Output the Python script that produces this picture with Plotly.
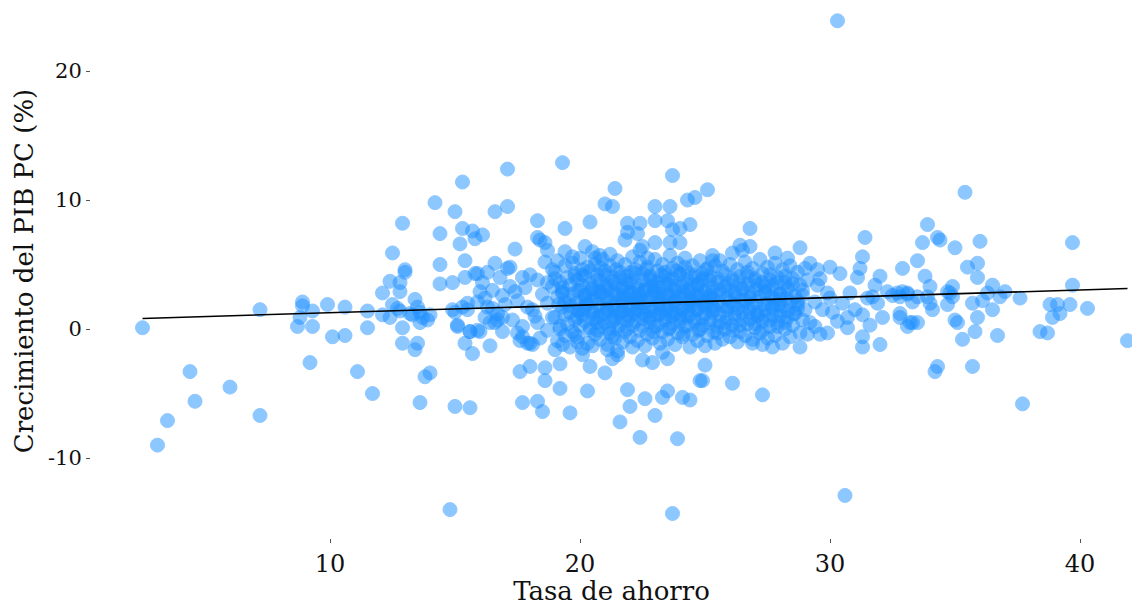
import numpy as np
import plotly.graph_objects as go

# ---- datos (tasa de ahorro, crecimiento PIB pc) ----
ahorro_izq = [2.5, 3.1, 3.5, 4.4, 4.6, 6.0, 7.2, 7.2, 8.9, 8.9, 8.8, 8.7, 9.3, 9.3, 9.2, 9.9, 10.1, 10.6, 10.6, 11.1, 11.5, 11.5, 11.7]
crec_izq = [0.1, -9.0, -7.1, -3.3, -5.6, -4.5, -6.7, 1.5, 2.1, 1.8, 0.9, 0.2, 1.4, 0.2, -2.6, 1.9, -0.6, -0.5, 1.7, -3.3, 1.4, 0.1, -5.0]

ahorro_a = [12.1, 12.4, 12.5, 12.8, 12.8, 12.9, 13.0, 13.0, 12.5, 12.7, 12.8, 12.1, 12.4, 13.2, 13.4, 13.5, 13.6,
            13.3, 13.7, 14.0, 13.6, 13.9, 12.9, 12.9, 13.5, 13.4, 14.0, 13.8, 13.6, 14.2, 14.4, 14.4, 14.4, 14.8]
crec_a = [2.8, 3.7, 5.9, 3.6, 2.9, 8.2, 4.6, 4.4, 1.9, 1.6, 1.4, 1.1, 0.9, 1.2, 2.3, 1.7, 1.3,
          1.1, 0.9, 1.1, 0.5, 0.7, 0.1, -1.1, -1.1, -1.6, -3.4, -3.7, -5.7, 9.8, 7.4, 5.0, 3.5, -14.0]

ahorro_b = [15.3, 15.0, 15.3, 15.7, 16.1, 15.8, 15.2, 16.6, 17.1, 17.1, 17.4, 15.4, 14.9, 16.6, 17.1, 15.9, 16.3,
            15.0, 15.6, 15.1, 15.4, 15.7, 15.6, 16.0, 16.4, 15.0, 15.5, 16.7, 16.9, 17.7, 17.9, 18.1, 17.6, 18.0,
            18.6, 18.6, 17.7, 18.3, 18.5, 18.3, 18.3, 18.6, 18.7]
crec_b = [11.4, 9.1, 7.8, 7.6, 7.3, 7.0, 6.6, 9.1, 9.5, 12.4, 6.2, 5.3, 3.6, 5.1, 4.7, 4.3, 4.4,
          -6.0, -6.1, 0.2, -1.1, -1.9, -0.2, -0.2, -1.3, 1.3, 1.5, 0.7, -0.2, -0.6, -1.1, -1.2, -3.3, -2.9,
          -3.0, -4.0, -5.7, -5.6, -6.4, 8.4, 7.1, 6.7, 6.1]

ahorro_c = [19.2, 19.2, 19.6, 19.0, 19.6, 20.1, 20.4, 21.0, 20.3, 21.9, 22.0, 21.6, 22.6, 23.0, 22.4, 23.5,
            22.9, 22.5, 23.3, 23.5, 24.1, 24.4, 23.9, 23.7, 24.8, 21.1, 21.5, 21.3, 19.3, 21.4, 23.7, 24.6,
            24.3, 21.0, 21.3, 23.0, 23.6, 20.4, 19.4, 21.9, 22.4, 21.9, 22.3, 21.8, 23.0, 23.5, 23.7, 24.0,
            24.4, 25.1, 23.0, 22.5, 22.4, 23.6, 24.0, 20.2, 20.5, 20.8, 20.6, 19.4, 19.7, 18.4]
crec_c = [-2.7, -4.6, -6.5, -1.6, -1.4, -2.0, -2.9, -3.4, -4.8, -4.7, -6.0, -7.2, -5.4, -6.7, -8.4, -2.3,
          -2.6, -2.4, -5.3, -4.8, -5.3, -5.5, -8.5, -14.3, -4.0, -1.6, -2.0, -2.3, 12.9, 10.9, 11.9, 10.2,
          10.0, 9.7, 9.5, 9.5, 9.5, 8.3, 7.8, 8.2, 8.2, 7.5, 7.4, 6.9, 8.4, 8.4, 7.7, 7.8,
          8.1, 10.8, 6.7, 6.4, 6.1, 6.7, 6.7, 6.4, 6.0, 5.7, 5.5, 6.0, 5.6, 6.9]

ahorro_d = [26.8, 26.4, 26.8, 26.1, 26.5, 27.8, 28.3, 28.8, 25.3, 25.3, 25.0, 24.9, 26.1, 27.3, 26.9,
            27.3, 27.7, 28.8, 29.4, 29.6, 29.9, 30.1, 30.0, 30.4, 30.6, 30.3, 29.2, 29.5, 29.5, 29.9]
crec_d = [7.8, 6.5, 6.4, 5.9, 6.1, 5.9, 5.5, 6.3, 5.7, 5.3, -2.8, -4.0, -4.2, -5.1, -1.1,
          -1.2, -1.4, -1.4, 0.2, -0.4, -0.3, 1.3, 4.8, 4.3, -12.9, 23.9, 5.1, 4.6, 3.4, 2.8]

ahorro_e = [31.4, 31.3, 31.2, 31.1, 32.0, 31.8, 32.9, 33.5, 33.9, 33.7, 34.3, 34.4, 36.0, 39.7, 35.0,
            35.4, 35.9, 35.5, 35.9, 33.8, 34.0, 36.5, 37.0, 39.7, 34.9, 34.7, 37.6, 38.8, 39.1, 39.2,
            38.9, 39.6, 40.3, 38.4, 38.7, 41.9, 36.7, 35.8, 35.9, 35.3, 35.1, 35.0, 36.5, 36.1, 35.7,
            36.8, 36.3, 34.7, 34.9, 34.8, 33.9, 34.0, 34.1, 33.2, 33.3, 33.5, 32.8, 32.8, 33.1, 34.3,
            34.2, 35.7, 32.1, 31.6, 31.3, 31.3, 32.0, 30.7, 30.7, 31.0, 31.3, 37.7, 31.5, 31.7, 31.9,
            32.3, 32.5, 32.8, 33.1, 33.5, 33.3, 33.1, 32.7, 32.9]
crec_e = [7.1, 5.6, 4.7, 4.0, 4.1, 3.4, 4.7, 5.3, 8.1, 6.7, 7.1, 6.9, 6.8, 6.7, 6.3,
          10.6, 5.1, 4.8, 4.0, 4.1, 3.3, 3.4, 2.9, 3.4, 3.3, 2.9, 2.4, 1.9, 1.9, 1.2,
          0.9, 1.9, 1.6, -0.2, -0.3, -0.9, -0.5, -0.2, 0.9, -0.8, 0.5, 0.7, 1.5, 2.2, 2.0,
          2.5, 2.8, 1.9, 2.5, 2.8, 2.5, 2.0, 1.5, 0.5, 0.5, 0.5, 1.2, 0.9, 0.2, -2.9,
          -3.3, -2.9, 0.9, 0.3, -0.6, -1.4, -1.2, 0.9, 0.1, 1.5, 1.1, -5.8, 2.4, 2.5, 2.0,
          2.9, 2.6, 2.5, 2.7, 2.5, 2.1, 2.8, 2.8, 2.9]

ahorro_m1 = [14.9, 15.3, 15.5, 15.9, 16.2, 16.3, 16.7, 16.9, 15.4, 15.8, 16.1, 16.5, 16.8, 17.2, 15.1, 15.6,
             15.9, 16.4, 16.6, 17.2, 17.7, 18.0, 18.3, 18.7, 17.5, 17.9, 18.1, 18.7, 17.3, 17.7, 18.3, 18.7,
             17.6, 18.0, 18.4, 16.0, 16.9, 17.4, 17.0, 18.5, 18.9, 18.2, 17.8, 18.9, 16.5, 17.5, 18.6, 16.2]
crec_m1 = [1.5, 1.7, 2.0, 2.1, 2.4, 1.7, 1.2, 0.9, 4.0, 4.3, 3.6, 3.0, 4.0, 3.3, 0.3, -0.2,
           -0.1, 0.5, 0.5, 4.8, 4.0, 4.2, 3.8, 3.6, 2.2, 1.7, 1.5, 2.0, 0.7, 0.2, 0.5, -0.1,
           -0.9, -1.1, -0.7, 2.9, 2.6, 2.9, 1.9, 2.7, 4.6, 1.0, 3.2, 0.9, 1.6, -0.3, 5.2, 0.9]

ahorro_m2 = [
    19.1, 19.0, 19.2, 19.1, 19.3, 19.0, 19.2, 19.1, 19.3,
    19.4, 19.5, 19.3, 19.4, 19.6, 19.5, 19.4, 19.3, 19.6,
    19.7, 19.8, 19.6, 19.7, 19.9, 19.8, 19.7, 19.6, 19.9,
    20.0, 20.1, 19.9, 20.0, 20.2, 20.1, 20.0, 19.9, 20.2, 20.1,
    20.3, 20.4, 20.2, 20.3, 20.5, 20.4, 20.3, 20.2, 20.5,
    20.6, 20.7, 20.5, 20.6, 20.8, 20.7, 20.6, 20.5, 20.8, 20.7,
    20.9, 21.0, 20.8, 20.9, 21.1, 21.0, 20.9, 20.8, 21.1, 21.0,
    21.2, 21.3, 21.1, 21.2, 21.4, 21.3, 21.2, 21.1, 21.4, 21.3, 21.2,
    21.5, 21.6, 21.4, 21.5, 21.7, 21.6, 21.5, 21.4, 21.7, 21.6, 21.5,
    21.8, 21.9, 21.7, 21.8, 22.0, 21.9, 21.8, 21.7, 22.0, 21.9, 21.8,
    22.1, 22.2, 22.0, 22.1, 22.3, 22.2, 22.1, 22.0, 22.3, 22.2, 22.1,
    22.4, 22.5, 22.3, 22.4, 22.6, 22.5, 22.4, 22.3, 22.6, 22.5, 22.4,
    22.7, 22.8, 22.6, 22.7, 22.9, 22.8, 22.7, 22.6, 22.9, 22.8, 22.7,
    23.0, 23.1, 22.9, 23.0, 23.2, 23.1, 23.0, 22.9, 23.2, 23.1, 23.0,
    23.3, 23.4, 23.2, 23.3, 23.5, 23.4, 23.3, 23.2, 23.5, 23.4, 23.3,
    23.6, 23.7, 23.5, 23.6, 23.8, 23.7, 23.6, 23.5, 23.8, 23.7, 23.6,
    23.9, 24.0, 23.8, 23.9, 24.1, 24.0, 23.9, 23.8, 24.1, 24.0,
    24.2, 24.3, 24.1, 24.2, 24.4, 24.3, 24.2, 24.1, 24.4, 24.3, 24.2,
    24.5, 24.6, 24.4, 24.5, 24.7, 24.6, 24.5, 24.4, 24.7, 24.6,
    24.8, 24.9, 24.7, 24.8, 25.0, 24.9, 24.8, 24.7, 25.0, 24.9,
    25.1, 25.2, 25.0, 25.1, 25.3, 25.2, 25.1, 25.0, 25.3, 25.2,
]
crec_m2 = [
    5.3, 4.4, 3.6, 2.5, 1.7, 0.9, 0.0, -0.9, 2.9,
    4.9, 4.0, 3.2, 2.1, 1.3, 0.4, -0.5, -1.2, 1.8,
    5.1, 4.3, 3.4, 2.7, 1.5, 0.7, -0.2, 2.2, -1.0,
    5.5, 4.6, 3.8, 3.0, 2.3, 1.1, 0.3, -0.6, 1.7, -1.5,
    4.8, 3.5, 2.6, 1.9, 0.8, -0.1, -1.1, 4.1, 1.4,
    5.0, 4.2, 3.2, 2.4, 1.6, 0.5, -0.4, -1.3, 2.9, 0.9,
    5.4, 4.5, 3.7, 2.8, 2.0, 1.2, 0.2, -0.8, 1.6, 3.3,
    4.9, 4.0, 3.1, 2.2, 1.4, 0.6, -0.3, -1.2, 2.6, 1.0, 5.8,
    5.3, 4.4, 3.5, 2.7, 1.8, 0.9, 0.0, -0.7, 2.1, 1.3, -1.7,
    5.0, 4.1, 3.3, 2.4, 1.5, 0.7, -0.2, -1.0, 2.9, 1.1, 3.8,
    5.6, 4.6, 3.6, 2.8, 2.0, 1.2, 0.3, -0.6, 1.6, 2.4, -1.4,
    5.2, 4.3, 3.4, 2.5, 1.7, 0.8, -0.1, -0.9, 3.0, 1.3, 2.1,
    4.8, 3.9, 3.1, 2.2, 1.4, 0.5, -0.4, -1.3, 2.7, 1.0, 5.5,
    5.4, 4.5, 3.7, 2.9, 2.0, 1.1, 0.2, -0.7, 1.6, 2.5, 3.3,
    5.0, 4.1, 3.2, 2.4, 1.5, 0.7, -0.2, -1.1, 2.8, 1.2, -1.8,
    5.7, 4.7, 3.8, 2.6, 1.9, 1.0, 0.1, -0.8, 2.2, 1.4, 3.4,
    5.1, 4.2, 3.3, 2.5, 1.6, 0.8, -0.3, -1.2, 2.9, 1.1,
    5.5, 4.4, 3.6, 2.7, 1.8, 1.0, 0.2, -0.6, 2.3, 1.4, 4.8,
    4.9, 4.0, 3.1, 2.3, 1.5, 0.6, -0.4, -1.4, 2.8, 1.9,
    5.3, 4.3, 3.5, 2.6, 1.7, 0.9, 0.0, -0.9, 2.1, 3.9,
    4.7, 3.8, 3.0, 2.2, 1.3, 0.5, -0.5, -1.3, 1.8, 2.6,
]

ahorro_m3 = [
    25.4, 25.5, 25.3, 25.4, 25.6, 25.5, 25.4, 25.3,
    25.7, 25.8, 25.6, 25.7, 25.9, 25.8, 25.7, 25.6,
    26.0, 26.1, 25.9, 26.0, 26.2, 26.1, 26.0, 25.9,
    26.3, 26.4, 26.2, 26.3, 26.5, 26.4, 26.3, 26.2,
    26.6, 26.7, 26.5, 26.6, 26.8, 26.7, 26.6, 26.5,
    26.9, 27.0, 26.8, 26.9, 27.1, 27.0, 26.9, 26.8,
    27.2, 27.3, 27.1, 27.2, 27.4, 27.3, 27.2, 27.1,
    27.5, 27.6, 27.4, 27.5, 27.7, 27.6, 27.5, 27.4,
    27.8, 27.9, 27.7, 27.8, 28.0, 27.9, 27.8, 27.7,
    28.1, 28.2, 28.0, 28.1, 28.3, 28.2, 28.1, 28.0,
    28.4, 28.5, 28.3, 28.4, 28.6, 28.5, 28.4,
    28.7, 28.8, 28.6, 28.7, 28.9, 28.8, 28.7,
    29.0, 29.1, 28.9, 29.0, 29.2, 29.1,
    29.4, 29.7, 30.0, 30.3, 30.5, 30.8, 29.6,
]
crec_m3 = [
    4.9, 3.6, 2.4, 1.5, 0.6, -0.3, -1.1, 2.9,
    4.5, 3.3, 2.7, 1.8, 0.9, 0.0, -0.8, 5.3,
    5.0, 3.9, 3.0, 2.1, 1.2, 0.3, -0.6, 1.7,
    4.6, 3.5, 2.5, 1.6, 0.7, -0.2, -1.0, 2.9,
    5.2, 4.1, 3.1, 2.2, 1.3, 0.4, -0.5, 1.8,
    4.7, 3.7, 2.8, 1.9, 1.0, 0.1, -0.8, 2.4,
    5.4, 4.3, 3.4, 2.5, 1.5, 0.6, -0.3, 1.1,
    4.8, 3.8, 2.9, 2.0, 1.1, 0.2, -0.7, 3.3,
    5.1, 4.0, 3.1, 2.3, 1.4, 0.5, -0.5, 1.8,
    4.6, 3.6, 2.7, 1.8, 0.9, 0.0, -1.1, 2.3,
    4.9, 3.9, 3.0, 2.1, 1.2, 0.3, -0.6,
    4.4, 3.4, 2.5, 1.6, 0.7, -0.3, 1.9,
    4.7, 3.8, 2.6, 1.5, 0.5, -0.4,
    2.1, 1.5, 2.4, 0.6, 2.0, 2.8, 3.9,
]

# nucleo mas denso de la nube (entre columnas anteriores)
ahorro_m4 = [
    19.0, 19.3, 19.15, 19.4, 19.2, 18.9,
    19.8, 19.9, 19.85, 19.9, 19.8, 19.95,
    20.1, 20.2, 20.15, 20.2, 20.1, 20.25,
    20.4, 20.5, 20.45, 20.5, 20.4, 20.55,
    20.7, 20.8, 20.75, 20.8, 20.7, 20.85,
    21.0, 21.1, 21.05, 21.1, 21.0, 21.15,
    21.3, 21.4, 21.35, 21.4, 21.3, 21.45,
    21.6, 21.7, 21.65, 21.7, 21.6, 21.75,
    21.9, 22.0, 21.95, 22.0, 21.9, 22.05,
    22.2, 22.3, 22.25, 22.3, 22.2, 22.35,
    22.5, 22.6, 22.55, 22.6, 22.5, 22.65,
    22.8, 22.9, 22.85, 22.9, 22.8, 22.95,
    23.1, 23.2, 23.15, 23.2, 23.1, 23.25,
    23.4, 23.5, 23.45, 23.5, 23.4, 23.55,
    23.7, 23.8, 23.75, 23.8, 23.7, 23.85,
    24.0, 24.1, 24.05, 24.1, 24.0, 24.15,
    24.3, 24.4, 24.35, 24.4, 24.3, 24.45,
    24.6, 24.7, 24.65, 24.7, 24.6, 24.75,
    24.9, 25.0, 24.95, 25.0, 24.9, 25.05,
    25.2, 25.3, 25.25, 25.3, 25.2, 25.35,
    25.5, 25.6, 25.55, 25.6, 25.5,
    25.8, 25.9, 25.85, 25.9, 25.8,
    26.1, 26.2, 26.15, 26.2, 26.1,
    26.4, 26.5, 26.45, 26.5, 26.4,
    26.7, 26.8, 26.75, 26.8, 26.7,
    27.0, 27.1, 27.05, 27.1, 27.0,
    27.3, 27.4, 27.35, 27.4, 27.3,
    27.6, 27.7, 27.65, 27.7, 27.6,
    27.9, 28.0, 27.95, 28.0, 27.9,
    28.2, 28.3, 28.25, 28.3, 28.2,
    28.5, 28.7, 28.55, 28.9,
]
crec_m4 = [
    3.9, 2.8, 1.9, 1.1, 0.2, 3.3,
    4.1, 3.0, 2.0, 0.9, -0.4, 1.4,
    3.4, 2.6, 1.5, 0.6, 4.2, 2.0,
    4.5, 3.1, 2.2, 1.2, 0.1, 2.8,
    3.8, 2.7, 1.9, 1.0, -0.1, 4.7,
    4.2, 3.4, 2.4, 1.5, 0.5, 0.0,
    3.7, 2.9, 1.8, 0.8, -0.6, 4.6,
    4.0, 3.1, 2.3, 1.4, 0.3, 2.6,
    3.5, 2.6, 1.8, 1.0, 0.0, 4.4,
    4.3, 3.2, 2.2, 1.5, 0.6, 2.7,
    3.8, 2.9, 2.0, 1.1, 0.2, 4.6,
    4.1, 3.4, 2.5, 1.7, 0.8, -0.2,
    3.6, 2.7, 1.9, 1.2, 0.3, 4.2,
    4.4, 3.5, 2.6, 1.8, 0.9, 0.0,
    3.9, 3.0, 2.1, 1.2, 0.4, 4.5,
    4.3, 3.3, 2.4, 1.5, 0.6, -0.4,
    3.8, 2.9, 2.0, 1.1, 0.3, 3.4,
    4.2, 3.4, 2.5, 1.6, 0.8, -0.1,
    3.7, 2.8, 1.9, 1.2, 0.3, 4.6,
    4.1, 3.2, 2.3, 1.5, 0.7, -0.2,
    3.9, 3.0, 2.1, 1.1, 0.2,
    4.2, 3.5, 2.4, 1.5, 0.5,
    3.7, 2.7, 1.9, 0.9, -0.1,
    4.1, 3.1, 2.2, 1.3, 0.3,
    3.5, 2.5, 1.6, 0.8, 4.4,
    3.9, 3.1, 2.1, 1.3, 0.4,
    3.6, 2.8, 1.9, 1.0, -0.1,
    4.2, 3.4, 2.5, 1.6, 0.7,
    3.6, 2.7, 1.9, 1.0, 0.2,
    4.1, 3.2, 2.4, 1.4, 0.5,
    3.5, 2.2, 1.2, 3.0,
]

ticks_x = [10, 20, 30, 40]
ticks_y = [-10, 0, 10, 20]
etiquetas_y = ["-10", "0", "10", "20"]

grupos = [(ahorro_izq, crec_izq), (ahorro_a, crec_a), (ahorro_b, crec_b), (ahorro_c, crec_c),
          (ahorro_d, crec_d), (ahorro_e, crec_e), (ahorro_m1, crec_m1), (ahorro_m2, crec_m2),
          (ahorro_m3, crec_m3), (ahorro_m4, crec_m4)]
for gx, gy in grupos:
    assert len(gx) == len(gy), (len(gx), len(gy))

x = np.concatenate([np.array(g[0], float) for g in grupos])
y = np.concatenate([np.array(g[1], float) for g in grupos])

# recta de regresion lineal (como geom_smooth(method = "lm"))
pend, inter = np.polyfit(x, y, 1)
xl = np.array([x.min(), x.max()])
yl = inter + pend * xl

fig = go.Figure()
fig.add_trace(go.Scatter(
    x=x, y=y, mode="markers",
    marker=dict(size=14, color="#1E90FF", opacity=0.5,
                line=dict(width=1, color="#1E90FF")),
    hoverinfo="x+y",
))
fig.add_trace(go.Scatter(
    x=xl, y=yl, mode="lines",
    line=dict(color="black", width=1.6),
    hoverinfo="skip",
))

serif = "DejaVu Serif"
fig.update_layout(
    width=1132, height=606,
    margin=dict(l=91, r=0, t=4, b=68),
    plot_bgcolor="white", paper_bgcolor="white",
    showlegend=False,
    font=dict(family=serif, color="#111111"),
    xaxis=dict(
        range=[0.44, 42.08], tickvals=ticks_x,
        ticks="outside", ticklen=4, tickcolor="#555555", tickwidth=1,
        showgrid=False, zeroline=False, showline=False,
        tickfont=dict(size=24, family=serif, color="#111111"),
        title=dict(text="Tasa de ahorro", font=dict(size=26, family=serif, color="#111111"), standoff=8),
    ),
    yaxis=dict(
        range=[-16.2, 25.2], tickvals=ticks_y, ticktext=etiquetas_y,
        ticks="outside", ticklen=4, tickcolor="#555555", tickwidth=1,
        showgrid=False, zeroline=False, showline=False,
        tickfont=dict(size=21, family=serif, color="#111111"),
        title=dict(text="Crecimiento del PIB PC (%)", font=dict(size=26, family=serif, color="#111111"), standoff=6),
    ),
)

fig.write_html("out.html", config={"displayModeBar": False},
               post_script="document.body.style.margin='0';")
